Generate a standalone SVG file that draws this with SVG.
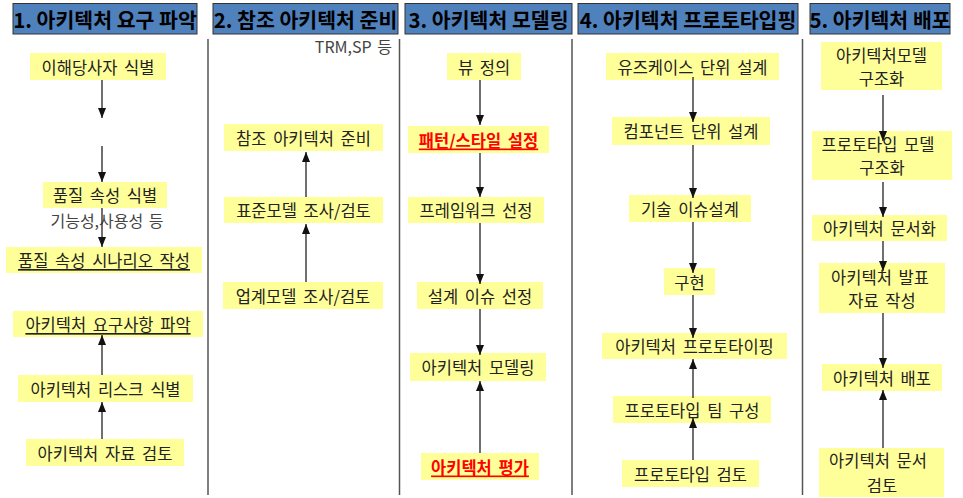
<svg xmlns="http://www.w3.org/2000/svg" width="963" height="498" viewBox="0 0 963 498">
<style>
.hdr{fill:#4F81BD;stroke:#333;stroke-width:1}
.ht{font-family:"Noto Sans CJK KR","Noto Sans",sans-serif;font-weight:bold;font-size:20.5px;fill:#000;text-anchor:middle;dominant-baseline:central}
.bx{fill:#FFFF99;stroke:none}
.t{font-family:"Noto Sans CJK KR","Noto Sans",sans-serif;font-size:16.5px;fill:#222;text-anchor:middle;dominant-baseline:central;word-spacing:3px}
.u{text-decoration:underline}
.r{fill:#FF0000;font-weight:bold}
.note{font-family:"Noto Sans CJK KR","Noto Sans",sans-serif;font-size:16px;fill:#444;dominant-baseline:central;word-spacing:2px}
.div{stroke:#555;stroke-width:1.5}
.c{stroke:#222;stroke-width:1.3;fill:none;marker-end:url(#ah)}
</style>
<defs>
<marker id="ah" markerUnits="userSpaceOnUse" markerWidth="10" markerHeight="10" viewBox="0 0 10 10" refX="10" refY="5" orient="auto">
<path d="M0,1 L10,5 L0,9 Z" fill="#111"/>
</marker>
</defs>
<rect width="963" height="498" fill="#fff"/>
<g id="headers">
<g id="h1"><rect class="hdr" x="13" y="3.5" width="184" height="30.5"/><text class="ht" x="105" y="19">1. 아키텍처 요구 파악</text></g>
<g id="h2"><rect class="hdr" x="213" y="3.5" width="185" height="30.5"/><text class="ht" x="305.5" y="19">2. 참조 아키텍처 준비</text></g>
<g id="h3"><rect class="hdr" x="405" y="3.5" width="167" height="30.5"/><text class="ht" x="488.5" y="19">3. 아키텍처 모델링</text></g>
<g id="h4"><rect class="hdr" x="578" y="3.5" width="220" height="30.5"/><text class="ht" x="688" y="19">4. 아키텍처 프로토타입핑</text></g>
<g id="h5"><rect class="hdr" x="810" y="3.5" width="140" height="30.5"/><text class="ht" x="880" y="19">5. 아키텍처 배포</text></g>
</g>
<g id="dividers">
<line class="div" x1="208" y1="39" x2="208" y2="495"/>
<line class="div" x1="399.5" y1="39" x2="399.5" y2="495"/>
<line class="div" x1="572" y1="39" x2="572" y2="495"/>
<line class="div" x1="802.5" y1="39" x2="802.5" y2="495"/>
</g>
<g id="notes">
<text class="note" x="392" y="46" text-anchor="end">TRM,SP 등</text>
<text class="note" x="107" y="220" text-anchor="middle">기능성,사용성 등</text>
</g>
<g id="col1">
<g id="n1a"><rect class="bx" x="30" y="53" width="136" height="27"/><text class="t" x="98" y="66.5">이해당사자 식별</text></g>
<g id="n1b"><rect class="bx" x="43" y="182" width="124" height="26"/><text class="t" x="105" y="195">품질 속성 식별</text></g>
<g id="n1c"><rect class="bx" x="6" y="247" width="196" height="26"/><text class="t u" x="104" y="260">품질 속성 시나리오 작성</text></g>
<g id="n1d"><rect class="bx" x="13" y="311" width="190" height="26"/><text class="t u" x="108" y="324">아키텍처 요구사항 파악</text></g>
<g id="n1e"><rect class="bx" x="18" y="375" width="175" height="27"/><text class="t" x="105.5" y="388.5">아키텍처 리스크 식별</text></g>
<g id="n1f"><rect class="bx" x="26" y="439" width="158" height="27"/><text class="t" x="105" y="452.5">아키텍처 자료 검토</text></g>
</g>
<g id="col2">
<g id="n2a"><rect class="bx" x="224" y="124" width="159" height="27"/><text class="t" x="303.5" y="137.5">참조 아키텍처 준비</text></g>
<g id="n2b"><rect class="bx" x="224" y="197" width="159" height="26"/><text class="t" x="303.5" y="210">표준모델 조사/검토</text></g>
<g id="n2c"><rect class="bx" x="223" y="282" width="160" height="27"/><text class="t" x="303" y="295.5">업계모델 조사/검토</text></g>
</g>
<g id="col3">
<g id="n3a"><rect class="bx" x="447" y="53" width="74" height="27"/><text class="t" x="484" y="66.5">뷰 정의</text></g>
<g id="n3b"><rect class="bx" x="408" y="126" width="141" height="27"/><text class="t u r" x="478.5" y="139.5">패턴/스타일 설정</text></g>
<g id="n3c"><rect class="bx" x="408" y="197" width="136" height="26"/><text class="t" x="476" y="210">프레임워크 선정</text></g>
<g id="n3d"><rect class="bx" x="417" y="282" width="126" height="27"/><text class="t" x="480" y="295.5">설계 이슈 선정</text></g>
<g id="n3e"><rect class="bx" x="410" y="353" width="136" height="28"/><text class="t" x="478" y="367">아키텍처 모델링</text></g>
<g id="n3f"><rect class="bx" x="421" y="453" width="118" height="27"/><text class="t u r" x="480" y="466.5">아키텍처 평가</text></g>
</g>
<g id="col4">
<g id="n4a"><rect class="bx" x="606" y="53" width="173" height="27"/><text class="t" x="692.5" y="66.5">유즈케이스 단위 설계</text></g>
<g id="n4b"><rect class="bx" x="612" y="117" width="158" height="28"/><text class="t" x="691" y="131">컴포넌트 단위 설계</text></g>
<g id="n4c"><rect class="bx" x="629" y="195" width="122" height="27"/><text class="t" x="690" y="208.5">기술 이슈설계</text></g>
<g id="n4d"><rect class="bx" x="664" y="268" width="51" height="27"/><text class="t" x="689.5" y="281.5">구현</text></g>
<g id="n4e"><rect class="bx" x="602" y="333" width="185" height="26"/><text class="t" x="694.5" y="346">아키텍처 프로토타이핑</text></g>
<g id="n4f"><rect class="bx" x="613" y="396" width="158" height="27"/><text class="t" x="692" y="409.5">프로토타입 팀 구성</text></g>
<g id="n4g"><rect class="bx" x="622" y="460" width="137" height="27"/><text class="t" x="690.5" y="473.5">프로토타입 검토</text></g>
</g>
<g id="col5">
<g id="n5a"><rect class="bx" x="821" y="42" width="121" height="48"/><text class="t" x="881.5" y="55">아키텍처모델</text><text class="t" x="881.5" y="78">구조화</text></g>
<g id="n5b"><rect class="bx" x="812" y="131" width="140" height="49"/><text class="t" x="878" y="144">프로토타입 모델</text><text class="t" x="882" y="167">구조화</text></g>
<g id="n5c"><rect class="bx" x="812" y="215" width="135" height="26"/><text class="t" x="879.5" y="228">아키텍처 문서화</text></g>
<g id="n5d"><rect class="bx" x="819" y="263" width="126" height="50"/><text class="t" x="880" y="277">아키텍처 발표</text><text class="t" x="882" y="300">자료 작성</text></g>
<g id="n5e"><rect class="bx" x="822" y="364" width="120" height="27"/><text class="t" x="882" y="377.5">아키텍처 배포</text></g>
<g id="n5f"><rect class="bx" x="819" y="448" width="125" height="49"/><text class="t" x="878" y="460">아키텍처 문서</text><text class="t" x="882" y="485">검토</text></g>
</g>
<g id="connectors">
<line class="c" x1="102" y1="80" x2="102" y2="118"/>
<line class="c" x1="102" y1="146" x2="102" y2="182"/>
<line class="c" x1="102" y1="208" x2="102" y2="247"/>
<line class="c" x1="102" y1="375" x2="102" y2="335"/>
<line class="c" x1="102" y1="439" x2="102" y2="402"/>
<line class="c" x1="306" y1="197" x2="306" y2="152"/>
<line class="c" x1="306" y1="282" x2="306" y2="224"/>
<line class="c" x1="480" y1="80" x2="480" y2="125"/>
<line class="c" x1="480" y1="153" x2="480" y2="197"/>
<line class="c" x1="480" y1="223" x2="480" y2="284"/>
<line class="c" x1="480" y1="309" x2="480" y2="355"/>
<line class="c" x1="480" y1="453" x2="480" y2="381"/>
<line class="c" x1="693" y1="77" x2="693" y2="122"/>
<line class="c" x1="693" y1="145" x2="693" y2="198"/>
<line class="c" x1="693" y1="222" x2="693" y2="273"/>
<line class="c" x1="693" y1="295" x2="693" y2="338"/>
<line class="c" x1="693" y1="398" x2="693" y2="359"/>
<line class="c" x1="693" y1="460" x2="693" y2="418"/>
<line class="c" x1="883" y1="95" x2="883" y2="141"/>
<line class="c" x1="883" y1="182" x2="883" y2="217"/>
<line class="c" x1="883" y1="241" x2="883" y2="271"/>
<line class="c" x1="883" y1="313" x2="883" y2="368"/>
<line class="c" x1="883" y1="448" x2="883" y2="390"/>
</g>
</svg>
